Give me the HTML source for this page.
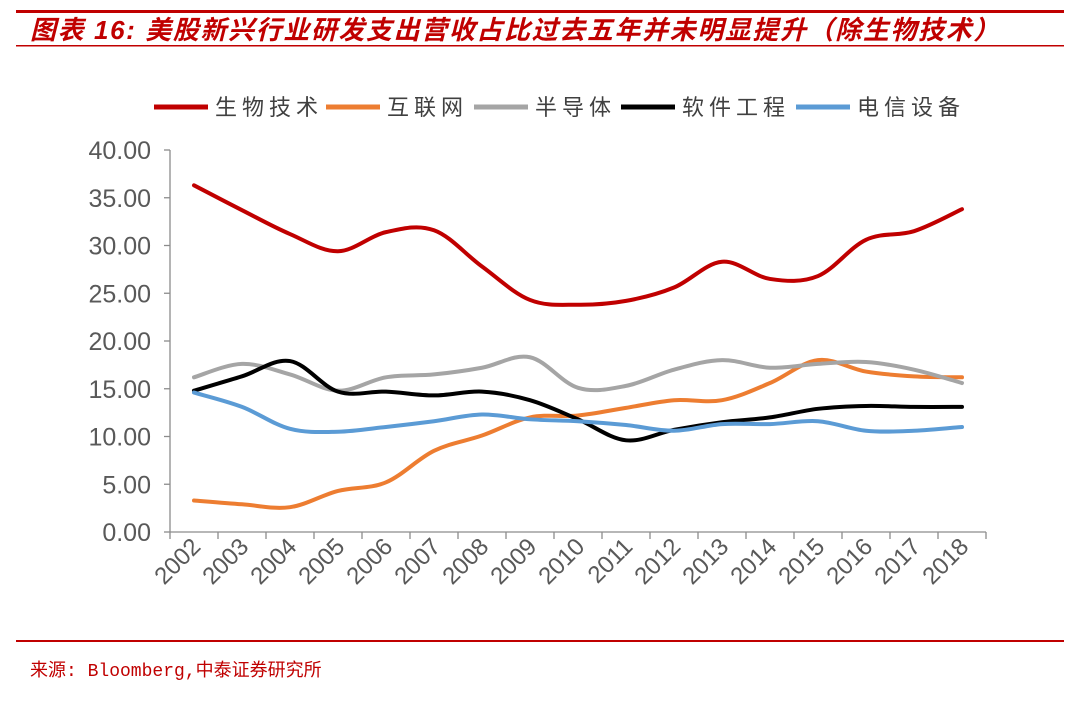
<!DOCTYPE html>
<html><head><meta charset="utf-8">
<style>
html,body{margin:0;padding:0;background:#fff;}
body{width:1080px;height:696px;overflow:hidden;position:relative;font-family:"Liberation Sans","Noto Sans CJK SC",sans-serif;}
</style></head>
<body>
<svg id="chart" width="1080" height="696" xmlns="http://www.w3.org/2000/svg">
  <rect x="16" y="10" width="1048" height="3" fill="#C00000"/>
  <rect x="16" y="45" width="1048" height="1.5" fill="#C00000"/>
  <text x="30" y="39" fill="#C00000" font-size="26" font-style="italic" font-weight="bold" letter-spacing="1.6" font-family="'Liberation Sans','Noto Sans CJK SC',sans-serif">图表 16:  美股新兴行业研发支出营收占比过去五年并未明显提升（除生物技术）</text>
  <g id="legend"></g>
  <g id="axes"></g>
  <g id="series"></g>
  <rect x="16" y="640" width="1048" height="2" fill="#C00000"/>
  <text x="30" y="676" fill="#C00000" font-size="18" font-family="'Liberation Mono','Noto Sans CJK SC',monospace">来源: Bloomberg,中泰证券研究所</text>
</svg>
<script>
const years = ["2002","2003","2004","2005","2006","2007","2008","2009","2010","2011","2012","2013","2014","2015","2016","2017","2018"];
const yTicks = [0,5,10,15,20,25,30,35,40];
const seriesNames = ["生物技术","互联网","半导体","软件工程","电信设备"];
const seriesColors = ["#C00000","#ED7D31","#A5A5A5","#000000","#5B9BD5"];
const bioTech = [36.3,33.7,31.2,29.4,31.4,31.6,27.8,24.3,23.8,24.2,25.6,28.3,26.5,26.8,30.6,31.5,33.8];
const internet = [3.3,2.9,2.6,4.3,5.2,8.5,10.1,12.0,12.2,13.0,13.8,13.8,15.6,18.0,16.8,16.3,16.2];
const semiconductor = [16.2,17.6,16.5,14.8,16.2,16.5,17.2,18.3,15.1,15.3,17.0,18.0,17.2,17.6,17.8,17.0,15.6];
const software = [14.8,16.3,17.9,14.7,14.7,14.3,14.7,13.8,11.8,9.6,10.7,11.5,12.0,12.9,13.2,13.1,13.1];
const telecom = [14.6,13.1,10.8,10.5,11.0,11.6,12.3,11.8,11.6,11.2,10.6,11.3,11.3,11.6,10.6,10.6,11.0];
const allSeries = [bioTech, internet, semiconductor, software, telecom];

const NS="http://www.w3.org/2000/svg";
const X0=170, X1=986, Y0=532, Y1=150, YMAX=40;
const band=(X1-X0)/years.length;
const xs=i=>X0+band*(i+0.5);
const ys=v=>Y0-(v/YMAX)*(Y0-Y1);
function mk(tag,attrs,parent){const e=document.createElementNS(NS,tag);for(const k in attrs)e.setAttribute(k,attrs[k]);parent.appendChild(e);return e;}

const axes=document.getElementById('axes');
let yl=mk('line',{x1:X0,y1:Y1,x2:X0,y2:Y0,stroke:'#8c8c8c','stroke-width':1.3},axes);


yTicks.forEach(t=>{
  const tk=mk('line',{x1:X0-6,y1:ys(t),x2:X0,y2:ys(t),stroke:'#8c8c8c','stroke-width':1.3},axes);
  
  
  const tx=mk('text',{x:X0-19,y:ys(t)+9,'text-anchor':'end','font-size':25,fill:'#595959'},axes);
  tx.textContent=t.toFixed(2);
  
  
});
let xl=mk('line',{x1:X0,y1:Y0,x2:X1,y2:Y0,stroke:'#8c8c8c','stroke-width':1.3},axes);


for(let i=0;i<=years.length;i++){
  const tk=mk('line',{x1:X0+band*i,y1:Y0,x2:X0+band*i,y2:Y0+7,stroke:'#8c8c8c','stroke-width':1.3},axes);
  
  
}
years.forEach((y,i)=>{
  const cx=xs(i)+8, cy=Y0+16;
  const tx=mk('text',{x:cx,y:cy,'text-anchor':'end','font-size':24,fill:'#595959',transform:`rotate(-45 ${cx} ${cy})`},axes);
  tx.textContent=y;
  
  
});

const sg=document.getElementById('series');
function smoothPath(vals){
  const p=vals.map((v,i)=>[xs(i),ys(v)]);
  let d=`M${p[0][0]},${p[0][1]}`;
  for(let i=0;i<p.length-1;i++){
    const p0=p[i-1]||p[i],p1=p[i],p2=p[i+1],p3=p[i+2]||p2;
    const t=0.17;
    d+=` C${p1[0]+(p2[0]-p0[0])*t},${p1[1]+(p2[1]-p0[1])*t} ${p2[0]-(p3[0]-p1[0])*t},${p2[1]-(p3[1]-p1[1])*t} ${p2[0]},${p2[1]}`;
  }
  return d;
}
const order=[1,2,3,4,0];
order.forEach(k=>{
  const pth=mk('path',{d:smoothPath(allSeries[k]),fill:'none',stroke:seriesColors[k],'stroke-width':4,'stroke-linecap':'round','stroke-linejoin':'round'},sg);
  
  
});

const lg=document.getElementById('legend');
const legX=[154,326,474,621,796];
seriesNames.forEach((n,k)=>{
  const ln=mk('line',{x1:legX[k],y1:107,x2:legX[k]+54,y2:107,stroke:seriesColors[k],'stroke-width':5},lg);
  
  
  const tx=mk('text',{x:legX[k]+61,y:115,'font-size':22,fill:'#404040','letter-spacing':5,'font-family':"'Noto Sans CJK SC',sans-serif"},lg);
  tx.textContent=n;
  
  
});
</script>
</body></html>
